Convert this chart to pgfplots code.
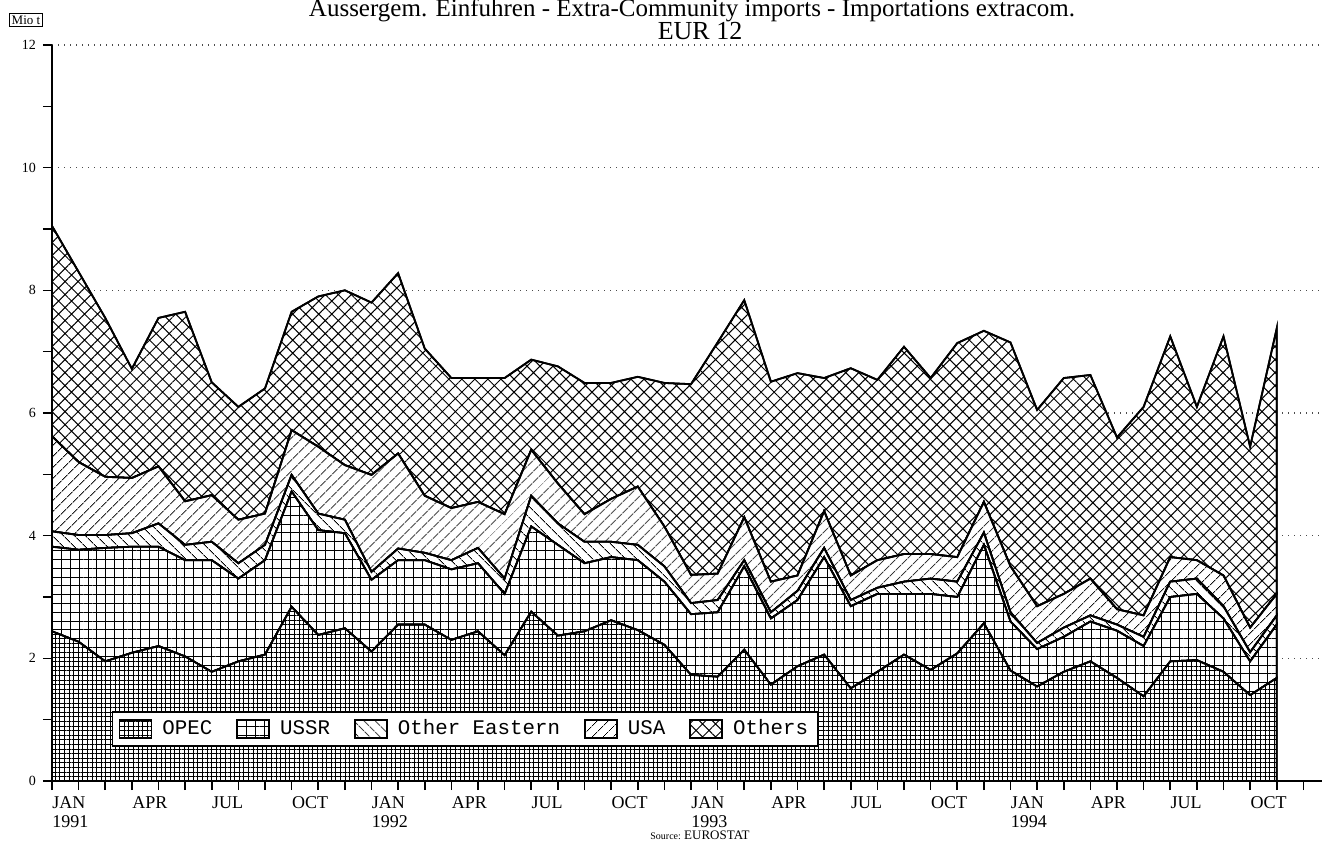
\documentclass[border=0pt]{standalone}
\usepackage{fontspec}
\setmainfont{Liberation Serif}
\newfontfamily\legendfont{Liberation Mono}
\usepackage{pgfplots}
\pgfplotsset{compat=1.18}
\usepackage{pgfplotstable}
\usetikzlibrary{patterns.meta}

\pgfplotstableread{
m opec ussr oeast usa others
0 2.44 1.38 0.25 1.55 3.43
1 2.27 1.50 0.24 1.19 3.10
2 1.95 1.85 0.21 0.95 2.59
3 2.09 1.73 0.22 0.90 1.78
4 2.20 1.62 0.38 0.93 2.42
5 2.03 1.57 0.25 0.71 3.09
6 1.78 1.82 0.30 0.76 1.84
7 1.95 1.35 0.25 0.71 1.84
8 2.06 1.54 0.25 0.51 2.04
9 2.84 1.88 0.27 0.73 1.93
10 2.38 1.71 0.27 1.09 2.45
11 2.49 1.55 0.22 0.89 2.85
12 2.11 1.17 0.13 1.58 2.81
13 2.55 1.05 0.19 1.55 2.94
14 2.55 1.05 0.12 0.93 2.40
15 2.30 1.15 0.15 0.85 2.12
16 2.44 1.11 0.25 0.75 2.02
17 2.05 1.00 0.25 1.05 2.22
18 2.76 1.39 0.50 0.75 1.47
19 2.37 1.48 0.35 0.65 1.91
20 2.44 1.11 0.35 0.45 2.14
21 2.62 1.03 0.25 0.70 1.89
22 2.46 1.14 0.25 0.95 1.79
23 2.22 1.03 0.25 0.65 2.34
24 1.73 0.99 0.18 0.46 3.11
25 1.70 1.05 0.20 0.43 3.77
26 2.14 1.36 0.10 0.70 3.54
27 1.57 1.08 0.10 0.50 3.26
28 1.87 1.08 0.15 0.25 3.30
29 2.06 1.59 0.15 0.60 2.17
30 1.51 1.34 0.10 0.40 3.38
31 1.78 1.27 0.10 0.45 2.94
32 2.06 0.99 0.20 0.45 3.38
33 1.81 1.24 0.25 0.40 2.87
34 2.08 0.92 0.25 0.40 3.49
35 2.57 1.28 0.20 0.50 2.79
36 1.80 0.80 0.15 0.75 3.65
37 1.54 0.61 0.10 0.60 3.20
38 1.78 0.57 0.15 0.55 3.52
39 1.95 0.65 0.10 0.60 3.32
40 1.68 0.77 0.10 0.25 2.80
41 1.38 0.82 0.15 0.35 3.40
42 1.95 1.05 0.25 0.40 3.60
43 1.97 1.08 0.25 0.30 2.50
44 1.78 0.87 0.20 0.50 3.90
45 1.40 0.55 0.15 0.40 2.95
46 1.68 0.87 0.15 0.35 4.33
}\imports

\tikzset{
  opecstyle/.style={fill=white, draw=black, line width=0.9pt,
    postaction={pattern={Hatch[angle=0,distance=2.3pt,line width=0.5pt]}}},
  ussrstyle/.style={fill=white, draw=black, line width=0.9pt,
    postaction={pattern={Hatch[angle=0,distance=4.4pt,line width=0.5pt]}}},
  oeststyle/.style={fill=white, draw=black, line width=0.9pt,
    postaction={pattern={Lines[angle=-45,distance=4pt,line width=0.45pt]}}},
  usastyle/.style={fill=white, draw=black, line width=0.9pt,
    postaction={pattern={Lines[angle=45,distance=4pt,line width=0.45pt]}}},
  othstyle/.style={fill=white, draw=black, line width=0.9pt,
    postaction={pattern={Hatch[angle=45,distance=4.6pt,line width=0.5pt]}}},
}

\begin{document}
\begin{tikzpicture}
\path[use as bounding box] (0,0) rectangle (661pt,420.5pt);
\node[font=\fontsize{12.5}{14}\selectfont, anchor=base, inner sep=0pt] at (346pt,412pt)
  {Aussergem. Einfuhren - Extra-Community imports - Importations extracom.};
\node[font=\fontsize{13}{15}\selectfont, anchor=base, inner sep=0pt] at (350pt,400.5pt) {EUR 12};
\node[draw=black, line width=0.5pt, inner sep=1pt, font=\fontsize{6.5}{7}\selectfont] at (13pt,410.5pt) {Mio t};
\node[font=\fontsize{5}{6}\selectfont, anchor=base] at (350pt,0.8pt) {Source: \fontsize{6.5}{7}\selectfont EUROSTAT};
\begin{axis}[
  at={(26pt,30pt)}, anchor=south west,
  scale only axis, width=635pt, height=368pt,
  xmin=0, xmax=47.7, ymin=0, ymax=12,
  axis x line*=bottom, axis y line*=left,
  axis line style={line width=0.8pt},
  stack plots=y,
  tick align=outside,
  major tick length=4.5pt, minor tick length=4.5pt,
  every tick/.style={black, line width=0.8pt},
  xtick={0,...,47},
  xticklabels={{JAN\\1991},,,APR,,,JUL,,,OCT,,,{JAN\\1992},,,APR,,,JUL,,,OCT,,,{JAN\\1993},,,APR,,,JUL,,,OCT,,,{JAN\\1994},,,APR,,,JUL,,,OCT,,},
  xticklabel style={align=left, anchor=north west, inner xsep=0pt, font=\fontsize{9}{9.5}\selectfont},
  ytick={0,2,...,12}, minor ytick={1,3,...,11},
  yticklabel style={font=\fontsize{7}{8}\selectfont},
  /pgf/number format/assume math mode=true,
  ymajorgrids,
  major grid style={line width=0.6pt, black!70, dash pattern=on 0.7pt off 2.3pt},
  legend columns=5,
  legend style={at={(0.047,0.0707)}, anchor=west, draw=black, line width=0.9pt, fill=white,
    font=\legendfont\fontsize{10.4}{12}\selectfont, inner ysep=2pt, inner xsep=3pt,
    /tikz/every odd column/.append style={column sep=3pt},
    /tikz/every even column/.append style={column sep=10pt, text height=1.6ex, text depth=0.35ex}},
  legend image code/.code={\draw[#1] (0pt,-4.5pt) rectangle (16pt,4.5pt);},
]
\addplot[opecstyle] table[x=m,y=opec]{\imports} \closedcycle;
\addplot[ussrstyle] table[x=m,y=ussr]{\imports} \closedcycle;
\addplot[oeststyle] table[x=m,y=oeast]{\imports} \closedcycle;
\addplot[usastyle] table[x=m,y=usa]{\imports} \closedcycle;
\addplot[othstyle] table[x=m,y=others]{\imports} \closedcycle;
\legend{OPEC,USSR,Other Eastern,USA,Others}
\end{axis}
\end{tikzpicture}
\end{document}
